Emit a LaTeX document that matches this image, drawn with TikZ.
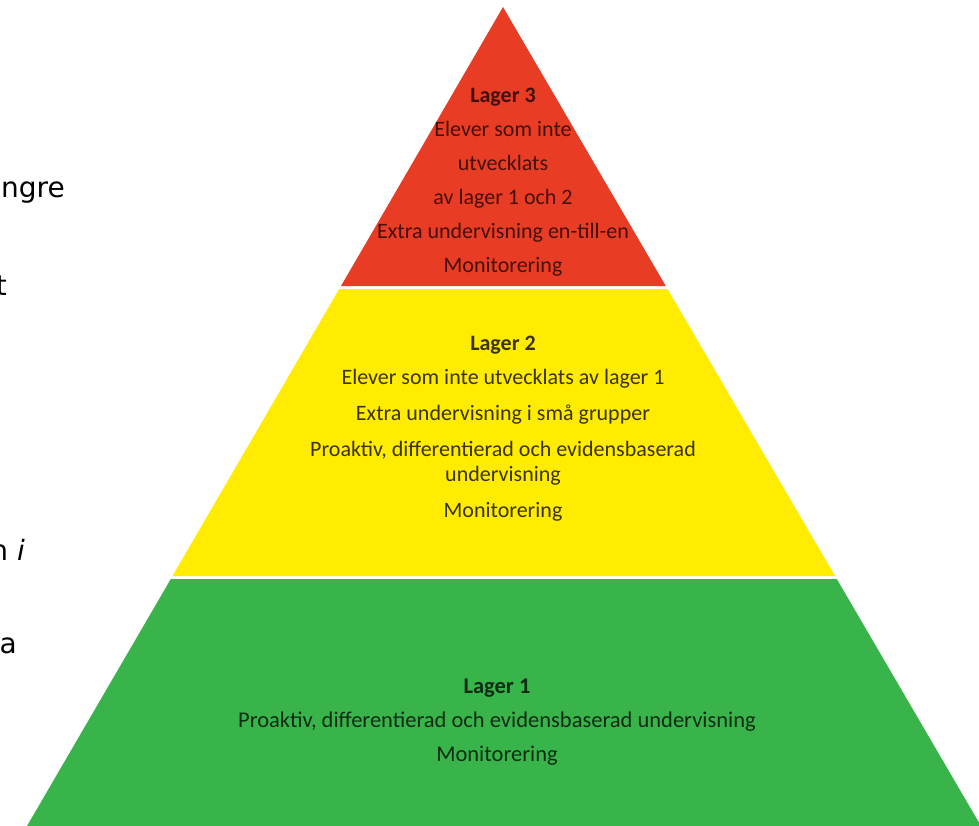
\documentclass[tikz,border=0pt]{standalone}
\usepackage{fontspec}
\setmainfont{Carlito}
\newfontfamily\sidefont{DejaVu Sans}
\usepackage{tikz}

\definecolor{LagerRed}{RGB}{232,60,36}
\definecolor{LagerYellow}{RGB}{255,236,0}
\definecolor{LagerGreen}{RGB}{57,180,74}
\definecolor{RedInk}{RGB}{70,16,10}
\definecolor{YellowInk}{RGB}{58,52,8}
\definecolor{GreenInk}{RGB}{14,44,20}

\begin{document}
\begin{tikzpicture}[x=1pt, y=-1pt,
      every node/.append style={align=center, inner sep=0pt},
      lagertext/.style={font=\fontsize{22}{25}\selectfont},
      sidetext/.style={font=\sidefont\fontsize{28}{34}\selectfont, anchor=base east}]
    \useasboundingbox (0,0) rectangle (979,826);
    % the three layers
    \fill[LagerRed] (503,7) -- (341,286) -- (665.8,286) -- cycle;
    \fill[LagerYellow] (339.2,289) -- (667.6,289) -- (835.1,576) -- (172.5,576) -- cycle;
    \fill[LagerGreen] (170.8,579) -- (836.8,579) -- (981,826) -- (27,826) -- cycle;
    % layer texts
    \node (lager3) [lagertext, text=RedInk] at (503,182)
      {\textbf{Lager 3}\\[9pt] Elever som inte\\[9pt] utvecklats\\[9pt] av lager 1 och 2\\[9pt]
       Extra undervisning en-till-en\\[9pt] Monitorering};
    \node (lager2) [lagertext, text=YellowInk] at (503,429)
      {\textbf{Lager 2}\\[9pt] Elever som inte utvecklats av lager 1\\[11pt] Extra undervisning i små grupper\\[11pt]
       Proaktiv, differentierad och evidensbaserad\\ undervisning\\[11pt] Monitorering};
    \node (lager1) [lagertext, text=GreenInk, font=\fontsize{22.5}{25}\selectfont] at (497,722)
      {\textbf{Lager 1}\\[9pt] Proaktiv, differentierad och evidensbaserad undervisning\\[9pt] Monitorering};
    % cut-off text at the left edge
    \node (side1) [sidetext] at (65,198) {ngre};
    \node (side2) [sidetext] at (7,295) {t};
    \node (side3) [sidetext] at (25,560) {n \textit{i}};
    \node (side4) [sidetext] at (17,653) {a};
\end{tikzpicture}
\end{document}
